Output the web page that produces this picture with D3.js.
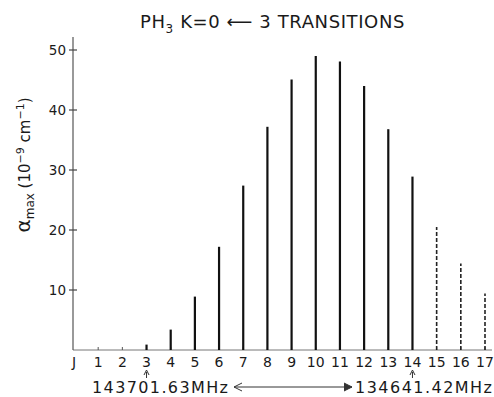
<!DOCTYPE html>
<html><head><meta charset="utf-8">
<script src="https://cdn.jsdelivr.net/npm/d3@7"></script>
<style>body{margin:0;background:#fff}svg{display:block}</style>
</head><body>
<svg id="c" width="494" height="397"></svg>
<script>
// Data
const jLabels = ["J","1","2","3","4","5","6","7","8","9","10","11","12","13","14","15","16","17"];
const measuredJ = [3,4,5,6,7,8,9,10,11,12,13,14];
const measuredVal = [0.9,3.4,8.9,17.2,27.4,37.2,45.1,49.0,48.1,44.0,36.8,28.9];
const predictedJ = [15,16,17];
const predictedVal = [20.5,14.4,9.4];
const yTicks = [10,20,30,40,50];
const freqLow = "143701.63MHz";
const freqHigh = "134641.42MHz";

const svg = d3.select("#c");
const font = "'DejaVu Sans', sans-serif";
const ink = "#1a1a1a";

const x = d3.scaleLinear().domain([0,17]).range([74,485]);
const y = d3.scaleLinear().domain([0,50]).range([350,50]);

// baseline
svg.append("line").attr("x1",73).attr("x2",492).attr("y1",y(0)).attr("y2",y(0))
  .attr("stroke","#777").attr("stroke-width",1);
// y axis line
svg.append("line").attr("x1",73).attr("x2",73).attr("y1",y(0)).attr("y2",37)
  .attr("stroke","#555").attr("stroke-width",1.2);

// y ticks (crosses)
const yt = svg.append("g");
yTicks.forEach(v=>{
  yt.append("line").attr("x1",69).attr("x2",77).attr("y1",y(v)).attr("y2",y(v))
    .attr("stroke","#444").attr("stroke-width",1.2);
  yt.append("text").attr("x",66).attr("y",y(v)+5).attr("text-anchor","end")
    .attr("font-family",font).attr("font-size",13.5).attr("fill",ink).text(v);
});

// x tick labels
jLabels.forEach((t,i)=>{
  svg.append("text").attr("x",x(i)).attr("y",367).attr("text-anchor","middle")
    .attr("font-family",font).attr("font-size",14).attr("fill",ink).text(t);
  if(i>0) svg.append("line").attr("x1",x(i)).attr("x2",x(i)).attr("y1",y(0)-3).attr("y2",y(0))
    .attr("stroke","#555").attr("stroke-width",1);
});

// measured bars
svg.append("g").selectAll("line").data(measuredJ).join("line")
  .attr("x1",d=>x(d)).attr("x2",d=>x(d))
  .attr("y1",y(0)).attr("y2",(d,i)=>y(measuredVal[i]))
  .attr("stroke","#111").attr("stroke-width",2.2);

// predicted bars (dashed)
svg.append("g").selectAll("line").data(predictedJ).join("line")
  .attr("x1",d=>x(d)).attr("x2",d=>x(d))
  .attr("y1",y(0)).attr("y2",(d,i)=>y(predictedVal[i]))
  .attr("stroke","#222").attr("stroke-width",1.6).attr("stroke-dasharray","4,2");

// title
const title = svg.append("text").attr("x",140).attr("y",28)
  .attr("font-family",font).attr("font-size",18).attr("fill",ink).attr("letter-spacing",0.6);
title.append("tspan").text("PH");
title.append("tspan").attr("font-size",12).attr("dy",5).text("3");
title.append("tspan").attr("dy",-5).text("  K=0 \u27F5 3  TRANSITIONS");

// y label
const yl = svg.append("text").attr("transform","translate(30,165) rotate(-90)")
  .attr("text-anchor","middle").attr("font-family",font).attr("font-size",15).attr("fill",ink);
yl.append("tspan").attr("font-size",20).text("\u03B1");
yl.append("tspan").attr("font-size",12).attr("dy",4).text("max");
yl.append("tspan").attr("dy",-4).text(" (10");
yl.append("tspan").attr("font-size",11).attr("dy",-6).text("\u22129");
yl.append("tspan").attr("dy",6).text(" cm");
yl.append("tspan").attr("font-size",11).attr("dy",-6).text("\u22121");
yl.append("tspan").attr("dy",6).text(")");

// frequency annotations
function upArrow(cx){
  svg.append("line").attr("x1",cx).attr("x2",cx).attr("y1",372).attr("y2",378)
    .attr("stroke","#333").attr("stroke-width",1);
  svg.append("path").attr("d",`M${cx-2.5},375 L${cx},370 L${cx+2.5},375`)
    .attr("fill","none").attr("stroke","#333").attr("stroke-width",1);
}
upArrow(x(3)); upArrow(x(14));
svg.append("text").attr("x",92).attr("y",393).attr("font-family",font).attr("font-size",16)
  .attr("fill",ink).attr("textLength",136).text(freqLow);
svg.append("text").attr("x",355).attr("y",393).attr("font-family",font).attr("font-size",16)
  .attr("fill",ink).attr("textLength",137).text(freqHigh);
// double arrow
svg.append("line").attr("x1",234).attr("x2",352).attr("y1",387).attr("y2",387)
  .attr("stroke","#333").attr("stroke-width",1);
svg.append("path").attr("d","M242,383 L234,387 L242,391").attr("fill","none").attr("stroke","#333");
svg.append("path").attr("d","M344,383 L352,387 L344,391").attr("fill","#333").attr("stroke","#333");
</script>
</body></html>
